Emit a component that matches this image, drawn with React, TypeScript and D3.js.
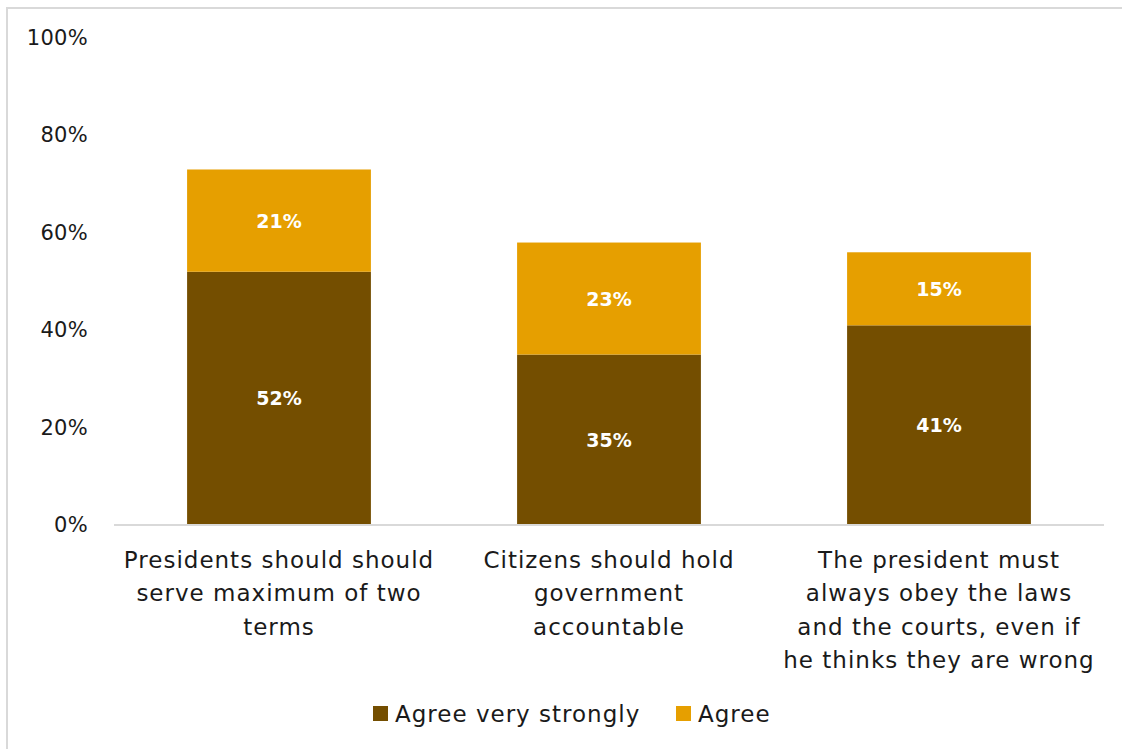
import React from "react";
import * as d3 from "d3";

const categories: string[][] = [
  ["Presidents should should", "serve maximum of two", "terms"],
  ["Citizens should hold", "government", "accountable"],
  ["The president must", "always obey the laws", "and the courts, even if", "he thinks they are wrong"],
];
const agreeVeryStrongly = [52, 35, 41];
const agree = [21, 23, 15];
const yTicks = [0, 20, 40, 60, 80, 100];
const seriesNames = ["Agree very strongly", "Agree"];
const colors = ["#744E00", "#E69F00"];

const W = 1122;
const H = 749;
const FONT = "'DejaVu Sans', sans-serif";

export default function App() {
  const x = d3
    .scaleBand<number>()
    .domain(categories.map((_, i) => i))
    .range([114, 1104])
    .paddingInner(0.443)
    .paddingOuter(0.2215);
  const y = d3.scaleLinear().domain([0, 100]).range([525, 38]);

  const stacked = categories.map((_, i) => {
    const a = agreeVeryStrongly[i];
    const b = agree[i];
    return [
      { y0: 0, y1: a, v: a, c: colors[0] },
      { y0: a, y1: a + b, v: b, c: colors[1] },
    ];
  });

  return (
    <svg
      width={W}
      height={H}
      style={{ position: "fixed", left: 0, top: 0, background: "#fff" }}
      fontFamily={FONT}
    >
      <rect x={7} y={8} width={1200} height={800} fill="#fff" stroke="#d9d9d9" strokeWidth={2} />
      {yTicks.map((t) => (
        <text key={t} x={88} y={y(t)} textAnchor="end" dominantBaseline="central" fontSize={21} letterSpacing={0.3} fill="#1a1a1a">
          {t}%
        </text>
      ))}
      {stacked.map((segs, i) =>
        segs.map((s, j) => (
          <g key={`${i}-${j}`}>
            <rect x={x(i)} y={y(s.y1)} width={x.bandwidth()} height={y(s.y0) - y(s.y1)} fill={s.c} />
            <text
              x={(x(i) as number) + x.bandwidth() / 2}
              y={(y(s.y0) + y(s.y1)) / 2}
              textAnchor="middle"
              dominantBaseline="central"
              fontSize={19}
              fontWeight="bold"
              fill="#fff"
            >
              {s.v}%
            </text>
          </g>
        ))
      )}
      <line x1={114} x2={1104} y1={y(0)} y2={y(0)} stroke="#d9d9d9" strokeWidth={2} />
      {categories.map((lines, i) => (
        <text key={i} textAnchor="middle" fontSize={23} letterSpacing={1} fill="#1a1a1a">
          {lines.map((l, k) => (
            <tspan key={k} x={(x(i) as number) + x.bandwidth() / 2} y={560 + k * 33.3} dominantBaseline="central">
              {l}
            </tspan>
          ))}
        </text>
      ))}
      {seriesNames.map((n, i) => {
        const lx = i === 0 ? 373 : 676;
        return (
          <g key={n}>
            <rect x={lx} y={706} width={15} height={15} fill={colors[i]} />
            <text x={lx + 22} y={714} dominantBaseline="central" fontSize={23} letterSpacing={1} fill="#1a1a1a">
              {n}
            </text>
          </g>
        );
      })}
    </svg>
  );
}
